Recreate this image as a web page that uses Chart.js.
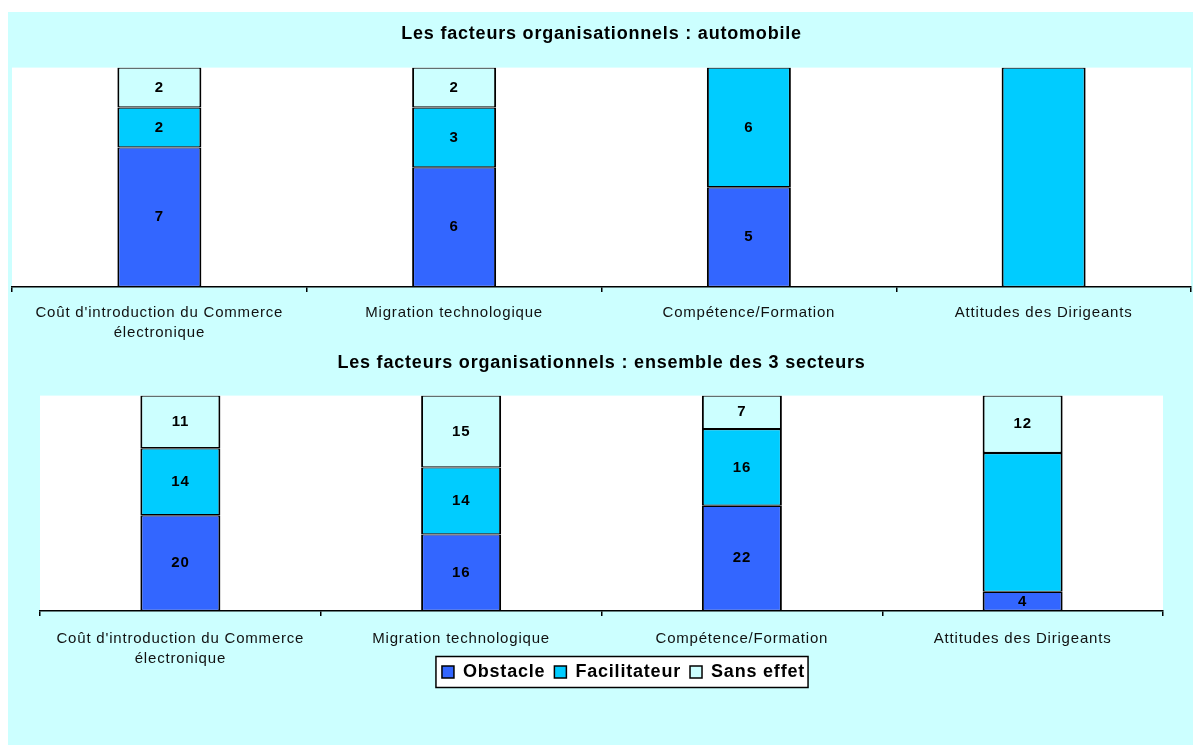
<!DOCTYPE html>
<html>
<head>
<meta charset="utf-8">
<script src="https://cdn.jsdelivr.net/npm/chart.js@4.4.1/dist/chart.umd.min.js"></script>
<style>
  html, body { margin: 0; padding: 0; background: #fff; }
  #fond { position: absolute; left: 8px; top: 12px; width: 1185px; height: 733px; background: #CCFFFF; }
  .graph { position: absolute; left: 8px; width: 1185px; }
  #g1 { top: 12px; height: 333px; }
  #g2 { top: 345px; height: 400px; }
</style>
</head>
<body>
<div id="fond"></div>
<div class="graph" id="g1"><canvas id="canvas1"></canvas></div>
<div class="graph" id="g2"><canvas id="canvas2"></canvas></div>
<script>
let facteurs = [
  ["Coût d'introduction du Commerce", "électronique"],
  "Migration technologique",
  "Compétence/Formation",
  "Attitudes des Dirigeants"
];
let series = ["Obstacle", "Facilitateur", "Sans effet"];
let couleurs = ["#3366FF", "#00CCFF", "#CCFFFF"];

// secteur automobile
let autoObstacle = [7, 6, 5, 0];
let autoFacilitateur = [2, 3, 6, 11];
let autoSansEffet = [2, 2, 0, 0];

// ensemble des 3 secteurs
let totalObstacle = [20, 16, 22, 4];
let totalFacilitateur = [14, 14, 16, 29];
let totalSansEffet = [11, 15, 7, 12];

// cellules sans étiquette : [dataset, index]
let autoSansEtiquette = [[1, 3]];
let totalSansEtiquette = [[1, 3]];

Chart.defaults.font.family = 'Arial, "Liberation Sans", sans-serif';
Chart.defaults.color = '#000';

// texte un peu espacé, comme dans le classeur d'origine
let espacement = {
  id: 'espacement',
  beforeUpdate(chart) { chart.ctx.letterSpacing = '0.8px'; },
  beforeDraw(chart) { chart.ctx.letterSpacing = '0.8px'; }
};

let etiquettes = {
  id: 'etiquettes',
  afterDatasetsDraw(chart, args, opts) {
    let ctx = chart.ctx;
    ctx.save();
    ctx.font = 'bold 15px Arial, "Liberation Sans", sans-serif';
    ctx.fillStyle = '#000';
    ctx.textAlign = 'center';
    ctx.textBaseline = 'middle';
    chart.data.datasets.forEach((ds, i) => {
      chart.getDatasetMeta(i).data.forEach((bar, j) => {
        let v = ds.data[j];
        if (!v) return;
        if ((opts.cacher || []).some(c => c[0] === i && c[1] === j)) return;
        let y = (bar.y + bar.base) / 2;
        ctx.fillText(String(v), bar.x, y);
      });
    });
    ctx.restore();
  }
};

let fondZone = {
  id: 'fondZone',
  beforeDraw(chart) {
    let a = chart.chartArea;
    chart.ctx.save();
    chart.ctx.fillStyle = '#fff';
    chart.ctx.fillRect(a.left, a.top, a.right - a.left, a.bottom - a.top);
    chart.ctx.restore();
  }
};

// la légende remonte contre les libellés de l'axe et se décale à droite
let placeLegende = {
  id: 'placeLegende',
  afterLayout(chart, args, opts) {
    let lg = chart.legend;
    if (!lg || !lg.options.display) return;
    lg.top += opts.dy; lg.bottom += opts.dy;
    lg.left += opts.dx; lg.right += opts.dx;
  }
};

let cadreLegende = {
  id: 'cadreLegende',
  beforeDraw(chart) {
    let lg = chart.legend;
    if (!lg || !lg.options.display) return;
    let boxes = lg.legendHitBoxes;
    let x0 = Math.min(...boxes.map(b => b.left)) - 6;
    let x1 = Math.max(...boxes.map(b => b.left + b.width)) + 3;
    let yc = boxes[0].top + boxes[0].height / 2;
    let ctx = chart.ctx;
    ctx.save();
    ctx.fillStyle = '#fff';
    ctx.fillRect(x0, yc - 15.5, x1 - x0, 31);
    ctx.strokeStyle = '#000';
    ctx.lineWidth = 1.5;
    ctx.strokeRect(x0, yc - 15.5, x1 - x0, 31);
    ctx.restore();
  }
};

function jeux(a, b, c) {
  return [a, b, c].map((d, i) => ({
    label: series[i],
    data: d,
    backgroundColor: couleurs[i],
    borderColor: '#000',
    borderWidth: { left: 2, right: 2, top: 1.2, bottom: 1.2 },
    borderSkipped: false,
    barPercentage: 0.285,
    categoryPercentage: 1
  }));
}

function options(titre, padTitre, padding, hauteurAxe, padTicks, legende, cacher, yMax) {
  return {
    responsive: true,
    maintainAspectRatio: false,
    animation: false,
    layout: { padding: padding },
    plugins: {
      title: {
        display: true,
        text: titre,
        font: { size: 18, weight: 'bold' },
        padding: padTitre,
        color: '#000'
      },
      legend: {
        display: legende,
        position: 'bottom',
        labels: {
          boxWidth: 12,
          boxHeight: 12,
          padding: 9,
          font: { size: 18, weight: 'bold' },
          generateLabels(chart) {
            return chart.data.datasets.map((ds, i) => ({
              text: ds.label,
              fillStyle: ds.backgroundColor,
              strokeStyle: '#000',
              lineWidth: 1.5,
              datasetIndex: i
            }));
          }
        }
      },
      tooltip: { enabled: false },
      etiquettes: { cacher: cacher },
      placeLegende: { dx: 22, dy: -19 }
    },
    scales: {
      x: {
        stacked: true,
        grid: {
          offset: true,
          drawOnChartArea: false,
          drawTicks: true,
          tickLength: 5,
          color: '#000',
          lineWidth: 1.5
        },
        border: { display: true, color: '#000', width: 1.5 },
        ticks: {
          padding: padTicks,
          maxRotation: 0,
          autoSkip: false,
          font: { size: 15, lineHeight: 1.33 },
          color: '#111'
        },
        afterFit(scale) { scale.height = hauteurAxe; }
      },
      y: {
        stacked: true,
        display: false,
        min: 0,
        max: yMax
      }
    }
  };
}

let chart1 = new Chart(document.getElementById('canvas1').getContext('2d'), {
  type: 'bar',
  data: { labels: facteurs, datasets: jeux(autoObstacle, autoFacilitateur, autoSansEffet) },
  options: options('Les facteurs organisationnels : automobile',
    { top: 11, bottom: 23 }, { left: 4, right: 2, top: 0, bottom: 0 }, 58, 11, false, autoSansEtiquette, 11),
  plugins: [espacement, fondZone, etiquettes]
});

let chart2 = new Chart(document.getElementById('canvas2').getContext('2d'), {
  type: 'bar',
  data: { labels: facteurs, datasets: jeux(totalObstacle, totalFacilitateur, totalSansEffet) },
  options: options('Les facteurs organisationnels : ensemble des 3 secteurs',
    { top: 7, bottom: 22 }, { left: 32, right: 30, top: 0, bottom: 35 }, 62, 13, true, totalSansEtiquette, 45),
  plugins: [espacement, fondZone, placeLegende, cadreLegende, etiquettes]
});
</script>
</body>
</html>
